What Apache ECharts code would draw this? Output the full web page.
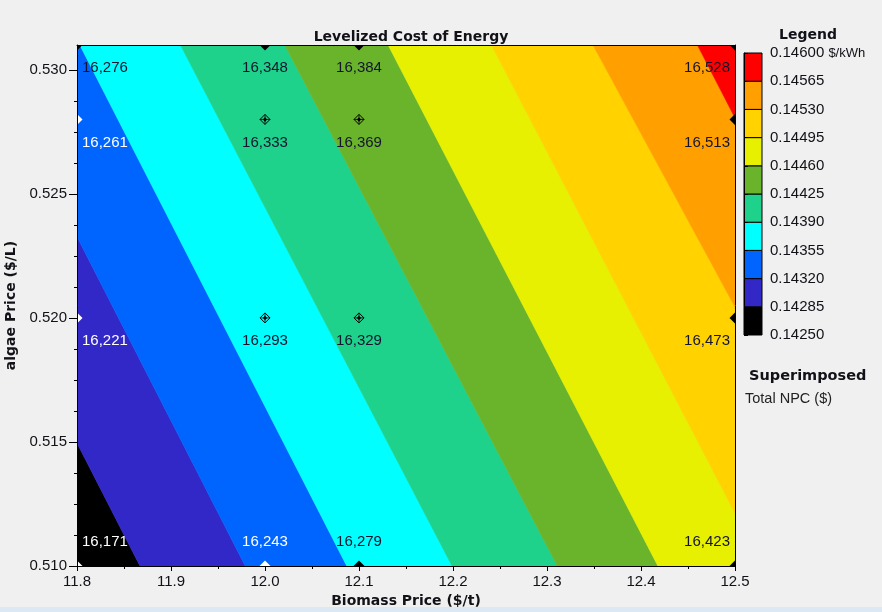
<!DOCTYPE html>
<html><head><meta charset="utf-8">
<script src="https://cdn.jsdelivr.net/npm/echarts@6/dist/echarts.min.js"></script>
<style>html,body{margin:0;padding:0;background:#f0f0f0}#c{width:882px;height:612px}</style>
</head><body><div id="c"></div>
<script>
// ---------------- data ----------------
const xRange = [11.8, 12.5];            // Biomass Price ($/t)
const yRange = [0.510, 0.531];          // algae Price ($/L)
const yTickValues = [0.510, 0.515, 0.520, 0.525, 0.530];
const lcoeLevels = [0.14250, 0.14285, 0.14320, 0.14355, 0.14390, 0.14425, 0.14460, 0.14495, 0.14530, 0.14565, 0.14600];
// contour boundaries between consecutive LCOE bands: points where each meets the plot frame
const boundaryStart = [[11.8, 0.51496], [11.8, 0.52327], [11.803, 0.531], [11.910, 0.531], [12.021, 0.531], [12.131, 0.531], [12.241, 0.531], [12.349, 0.531], [12.460, 0.531]];
const boundaryEnd   = [[11.867, 0.510], [11.979, 0.510], [12.087, 0.510], [12.199, 0.510], [12.311, 0.510], [12.418, 0.510], [12.5, 0.51214], [12.5, 0.52044], [12.5, 0.52806]];
// superimposed Total NPC ($) at sensitivity points
const biomassPrices = [11.8, 12.0, 12.1, 12.5];
const algaePrices = [0.510, 0.520, 0.528, 0.531];
const npc_0510 = [16171, 16243, 16279, 16423];
const npc_0520 = [16221, 16293, 16329, 16473];
const npc_0528 = [16261, 16333, 16369, 16513];
const npc_0531 = [16276, 16348, 16384, 16528];
const totalNPC = [npc_0510, npc_0520, npc_0528, npc_0531];
const legendUnit = '$/kWh';

// ---------------- styles ----------------
const bandColors = ['#000000', '#3228c8', '#0064ff', '#00ffff', '#1ed28c', '#6ab42c', '#e6f000', '#ffd200', '#ffa000', '#ff0000'];
const lightLabelPoints = ['0-0', '0-1', '1-0', '2-0']; // row-col drawn in white
const FONT = '"Liberation Sans", Arial, sans-serif';
const BFONT = '"DejaVu Sans", Verdana, sans-serif';
const TXT = '#111118';

function xOnLine(s, e, y) { return s[0] + (e[0] - s[0]) * (y - s[1]) / (e[1] - s[1]); }
const Y_LO = 0.49, Y_HI = 0.55;
function lineEnds(k) {
  if (k < 0) return [[11.0, Y_LO], [11.0, Y_HI]];
  if (k >= boundaryStart.length) return [[13.5, Y_LO], [13.5, Y_HI]];
  const s = boundaryStart[k], e = boundaryEnd[k];
  return [[xOnLine(s, e, Y_LO), Y_LO], [xOnLine(s, e, Y_HI), Y_HI]];
}
function fmtNum(n) { return String(n).replace(/\B(?=(\d{3})+(?!\d))/g, ','); }

const bandData = bandColors.map((c, i) => [i]);
const pointData = [];
algaePrices.forEach((y, r) => biomassPrices.forEach((x, c) => pointData.push([x, y, totalNPC[r][c], r, c])));
const legendData = bandColors.map((c, i) => [0, i]);

const chart = echarts.init(document.getElementById('c'), null, { renderer: 'canvas' });
chart.setOption({
  backgroundColor: '#f0f0f0',
  animation: false,
  title: {
    text: 'Levelized Cost of Energy', left: 406, top: 25, textAlign: 'center',
    textStyle: { fontFamily: BFONT, fontSize: 14, fontWeight: 'bold', color: TXT }
  },
  grid: [
    { left: 77, right: 147, top: 45, bottom: 46, outerBoundsMode: 'none', containLabel: false },
    { left: 744, width: 18, top: 53, height: 282, outerBoundsMode: 'none', containLabel: false }
  ],
  xAxis: [
    {
      gridIndex: 0, type: 'value', min: xRange[0], max: xRange[1], interval: 0.1, z: 10,
      name: 'Biomass Price ($/t)', nameLocation: 'middle', nameGap: 24,
      nameTextStyle: { fontFamily: BFONT, fontSize: 14, fontWeight: 'bold', color: TXT },
      axisLine: { lineStyle: { color: '#000', width: 1 } },
      axisTick: { length: 5, lineStyle: { color: '#000' } },
      minorTick: { show: true, splitNumber: 2, length: 3, lineStyle: { color: '#000' } },
      axisLabel: { fontFamily: FONT, fontSize: 15, color: TXT, margin: 8, formatter: v => v.toFixed(1) },
      splitLine: { show: false }
    },
    {
      gridIndex: 0, type: 'value', min: xRange[0], max: xRange[1], position: 'top', z: 10,
      axisLine: { show: true, onZero: false, lineStyle: { color: '#000' } },
      axisTick: { show: false }, axisLabel: { show: false }, splitLine: { show: false }
    },
    { gridIndex: 1, type: 'value', min: 0, max: 1, show: false }
  ],
  yAxis: [
    {
      gridIndex: 0, type: 'value', min: yRange[0], max: yRange[1], interval: 0.005, z: 10,
      name: 'algae Price ($/L)', nameLocation: 'middle', nameGap: 43,
      nameTextStyle: { fontFamily: BFONT, fontSize: 14, fontWeight: 'bold', color: TXT },
      axisLine: { show: true, lineStyle: { color: '#000', width: 1 } },
      axisTick: { show: true, length: 8, customValues: yTickValues, lineStyle: { color: '#000' } },
      minorTick: { show: true, splitNumber: 4, length: 3, lineStyle: { color: '#000' } },
      axisLabel: { fontFamily: FONT, fontSize: 15, color: TXT, margin: 10, showMaxLabel: false, formatter: v => v.toFixed(3) },
      splitLine: { show: false }
    },
    {
      gridIndex: 0, type: 'value', min: yRange[0], max: yRange[1], position: 'right', z: 10,
      axisLine: { show: true, onZero: false, lineStyle: { color: '#000' } },
      axisTick: { show: false }, axisLabel: { show: false }, splitLine: { show: false }
    },
    {
      gridIndex: 1, type: 'value', min: 0, max: 10, interval: 1, position: 'right', z: 10,
      axisLine: { show: true, lineStyle: { color: '#000' } },
      axisTick: { show: true, length: 4, lineStyle: { color: '#000' } },
      axisLabel: {
        fontFamily: FONT, fontSize: 15, color: TXT, margin: 8,
        formatter: v => v === lcoeLevels.length - 1 ? lcoeLevels[v].toFixed(5) + ' {u|' + legendUnit + '}' : lcoeLevels[v].toFixed(5),
        rich: { u: { fontFamily: FONT, fontSize: 13, color: TXT } }
      },
      splitLine: { show: false }
    }
  ],
  series: [
    {
      type: 'custom', xAxisIndex: 0, yAxisIndex: 0, clip: true, data: bandData, z: 2,
      renderItem: (params, api) => {
        const b = api.value(0);
        const L = lineEnds(b - 1), R = lineEnds(b);
        const pts = [L[0], L[1], R[1], R[0]].map(p => api.coord(p));
        return { type: 'polygon', shape: { points: pts }, style: { fill: bandColors[b], stroke: bandColors[b], lineWidth: 0.6 } };
      }
    },
    {
      type: 'custom', xAxisIndex: 0, yAxisIndex: 0, clip: true, data: pointData, z: 5,
      renderItem: (params, api) => {
        const x = api.value(0), y = api.value(1), npc = api.value(2), r = api.value(3), c = api.value(4);
        const p = api.coord([x, y]);
        const light = lightLabelPoints.indexOf(r + '-' + c) >= 0;
        const col = light ? '#ffffff' : '#000000';
        const onEdge = x === xRange[0] || x === xRange[1] || y === yRange[0] || y === yRange[1];
        const dia = (rad) => [[p[0], p[1] - rad], [p[0] + rad, p[1]], [p[0], p[1] + rad], [p[0] - rad, p[1]]];
        const children = [];
        if (onEdge) {
          children.push({ type: 'polygon', shape: { points: dia(5.5) }, style: { fill: col } });
        } else {
          children.push({ type: 'polygon', shape: { points: dia(5) }, style: { fill: 'none', stroke: col, lineWidth: 1 } });
          children.push({ type: 'polygon', shape: { points: dia(2.2) }, style: { fill: col } });
          children.push({ type: 'line', shape: { x1: p[0] - 5, y1: p[1], x2: p[0] + 5, y2: p[1] }, style: { stroke: col, lineWidth: 0.8 } });
          children.push({ type: 'line', shape: { x1: p[0], y1: p[1] - 5, x2: p[0], y2: p[1] + 5 }, style: { stroke: col, lineWidth: 0.8 } });
        }
        let tx = p[0], align = 'center';
        if (x === xRange[0]) { tx = p[0] + 5; align = 'left'; }
        else if (x === xRange[1]) { tx = p[0] - 5; align = 'right'; }
        const ty = (y === yRange[0]) ? p[1] - 24 : p[1] + 23;
        children.push({
          type: 'text', x: tx, y: ty,
          style: { text: fmtNum(npc), fill: light ? '#ffffff' : '#14142e', font: '15px ' + FONT, align: align, verticalAlign: 'middle' }
        });
        return { type: 'group', children };
      }
    },
    {
      type: 'custom', xAxisIndex: 2, yAxisIndex: 2, data: legendData, z: 2,
      renderItem: (params, api) => {
        const i = api.value(1);
        const a = api.coord([0, i + 1]), b = api.coord([1, i]);
        return { type: 'rect', shape: { x: a[0], y: a[1], width: b[0] - a[0], height: b[1] - a[1] }, style: { fill: bandColors[i], stroke: '#000', lineWidth: 1 } };
      }
    }
  ],
  graphic: [
    { type: 'rect', left: 0, bottom: 0, z: 100, shape: { width: 882, height: 5 }, style: { fill: '#dde8f5' } },
    { type: 'text', left: 779, top: 28, style: { text: 'Legend', font: 'bold 14px ' + BFONT, fill: TXT } },
    { type: 'text', left: 749, top: 369, style: { text: 'Superimposed', font: 'bold 14.5px ' + BFONT, fill: TXT } },
    { type: 'text', left: 745, top: 391, style: { text: 'Total NPC ($)', font: '14.5px ' + FONT, fill: '#222' } }
  ]
});
</script></body></html>
